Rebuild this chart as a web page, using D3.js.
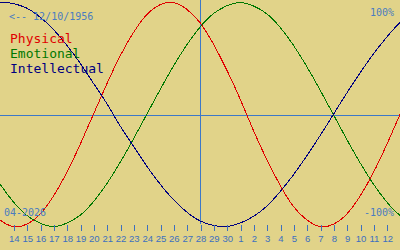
<!DOCTYPE html>
<meta charset="utf-8">
<style>
body {
  margin: 0;
  background: #e1d389;
}
svg {
  display: block;
}
.curve {
  fill: none;
  stroke-width: 1px;
  shape-rendering: crispEdges;
}
.guide {
  stroke: #3c78c8;
  stroke-width: 1px;
  shape-rendering: crispEdges;
}
.label {
  font-family: "DejaVu Sans Mono", monospace;
  font-size: 10px;
  fill: #4a7cc0;
}
.legend {
  font-family: "DejaVu Sans Mono", monospace;
  font-size: 13px;
}
.tick text {
  font-family: "Liberation Sans", sans-serif;
  font-size: 9.5px;
  fill: #3c6fc0;
}
.tick line {
  stroke: #3c6fc0;
}
</style>
<body>
<script src="https://d3js.org/d3.v7.min.js"></script>
<script>

var width = 400,
    height = 250;

// day index 0 = 13 April 2026, index 15 = today (28 April)
var dayIndex = [-1,0,1,2,3,4,5,6,7,8,9,10,11,12,13,14,15,16,17,18,19,20,21,22,23,24,25,26,27,28,29,30,31];

var physical = [-0.82,-0.94,-1.00,-0.98,-0.89,-0.73,-0.52,-0.27,0.00,0.27,0.52,0.73,0.89,0.98,1.00,0.94,0.82,
                0.63,0.40,0.14,-0.14,-0.40,-0.63,-0.82,-0.94,-1.00,-0.98,-0.89,-0.73,-0.52,-0.27,0.00,0.27];
var emotional = [-0.43,-0.62,-0.78,-0.90,-0.97,-1.00,-0.97,-0.90,-0.78,-0.62,-0.43,-0.22,0.00,0.22,0.43,0.62,0.78,
                0.90,0.97,1.00,0.97,0.90,0.78,0.62,0.43,0.22,0.00,-0.22,-0.43,-0.62,-0.78,-0.90,-0.97];
var intellectual = [0.97,1.00,0.99,0.95,0.87,0.76,0.62,0.46,0.28,0.10,-0.10,-0.28,-0.46,-0.62,-0.76,-0.87,-0.95,
                -0.99,-1.00,-0.97,-0.91,-0.82,-0.69,-0.54,-0.37,-0.19,0.00,0.19,0.37,0.54,0.69,0.82,0.91];

// tick labels for day index 1..29
var dayLabels = ["14","15","16","17","18","19","20","21","22","23","24","25","26","27","28","29","30",
                 "1","2","3","4","5","6","7","8","9","10","11","12"];

var series = [
  {name: "Physical", values: physical, color: "#e00000"},
  {name: "Emotional", values: emotional, color: "#007800"},
  {name: "Intellectual", values: intellectual, color: "#000080"}
];

var todayIndex = 15;

var x = d3.scaleLinear().domain([0, 30]).range([0, width]);
var y = d3.scaleLinear().domain([-1, 1]).range([226.5, 2.5]);

var svg = d3.select("body").append("svg")
    .attr("width", width)
    .attr("height", height);

// axes / guides
svg.append("line")
    .attr("class", "guide")
    .attr("x1", 0).attr("x2", width)
    .attr("y1", Math.round(y(0)) + 0.5).attr("y2", Math.round(y(0)) + 0.5);

svg.append("line")
    .attr("class", "guide")
    .attr("x1", x(todayIndex) + 0.5).attr("x2", x(todayIndex) + 0.5)
    .attr("y1", 0).attr("y2", 224);

var line = d3.line()
    .x(function(d, i) { return x(dayIndex[i]); })
    .y(function(d) { return y(d); })
    .curve(d3.curveNatural);

svg.selectAll(".curve")
    .data(series)
  .enter().append("path")
    .attr("class", "curve")
    .attr("stroke", function(d) { return d.color; })
    .attr("d", function(d) { return line(d.values); });

var xAxis = d3.axisBottom(x)
    .tickValues(d3.range(1, 30))
    .tickSize(6)
    .tickPadding(4)
    .tickFormat(function(d) { return dayLabels[d - 1]; });

var axisG = svg.append("g")
    .attr("transform", "translate(0.5,225)")
    .call(xAxis);
axisG.select(".domain").remove();
axisG.selectAll(".tick line").attr("shape-rendering", "crispEdges");
axisG.selectAll(".tick text").attr("font-family", null).attr("font-size", null).attr("fill", null);

// texts
svg.append("text")
    .attr("class", "label")
    .attr("x", 9).attr("y", 20)
    .text("<-- 12/10/1956");

svg.append("text")
    .attr("class", "label")
    .attr("x", 394).attr("y", 16)
    .attr("text-anchor", "end")
    .text("100%");

svg.append("text")
    .attr("class", "label")
    .attr("x", 394).attr("y", 216)
    .attr("text-anchor", "end")
    .text("-100%");

svg.append("text")
    .attr("class", "label")
    .attr("x", 4).attr("y", 216)
    .text("04-2026");

svg.selectAll(".legend")
    .data(series)
  .enter().append("text")
    .attr("class", "legend")
    .attr("x", 10)
    .attr("y", function(d, i) { return 43 + i * 15; })
    .attr("fill", function(d) { return d.color; })
    .text(function(d) { return d.name; });

</script>
